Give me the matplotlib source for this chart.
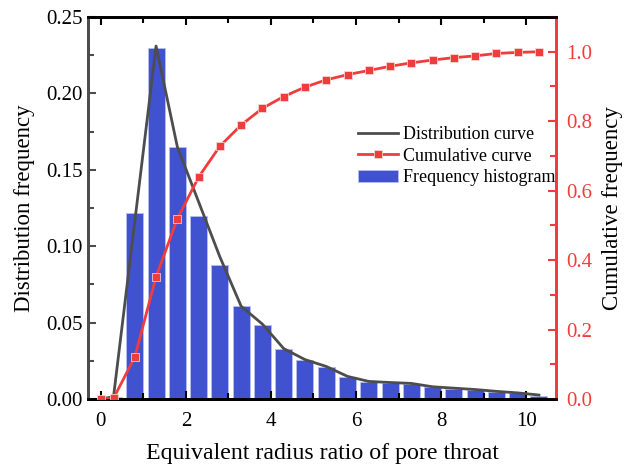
import matplotlib
matplotlib.use("Agg")
import matplotlib.pyplot as plt
from matplotlib.ticker import MultipleLocator

plt.rcParams["font.family"] = ["Liberation Serif", "DejaVu Serif"]
plt.rcParams["mathtext.fontset"] = "stix"

# histogram bins (centres) and frequencies
bin_centers = [0.3, 0.8, 1.3, 1.8, 2.3, 2.8, 3.3, 3.8, 4.3, 4.8, 5.3,
               5.8, 6.3, 6.8, 7.3, 7.8, 8.3, 8.8, 9.3, 9.8, 10.3]
freq = [0.0015, 0.122, 0.230, 0.165, 0.120, 0.0875, 0.0607, 0.0484, 0.0327, 0.0255, 0.0211,
        0.0146, 0.0113, 0.0103, 0.0098, 0.0077, 0.0068, 0.0059, 0.0048, 0.0037, 0.0022]

# distribution curve
curve_x = [0.0, 0.3, 1.3, 1.8, 2.3, 2.8, 3.3, 3.8, 4.3, 4.8, 5.3,
           5.8, 6.3, 6.8, 7.3, 7.8, 8.3, 8.8, 9.3, 9.8, 10.3]
curve_y = [0.0, 0.0015, 0.231, 0.165, 0.129, 0.093, 0.0607, 0.0490, 0.0330, 0.0258, 0.0213,
           0.0148, 0.0115, 0.0108, 0.0102, 0.0080, 0.0071, 0.0062, 0.0050, 0.0040, 0.0026]

# cumulative curve
cum_x = [0.0, 0.3, 0.8, 1.3, 1.8, 2.3, 2.8, 3.3, 3.8, 4.3, 4.8, 5.3,
         5.8, 6.3, 6.8, 7.3, 7.8, 8.3, 8.8, 9.3, 9.8, 10.3]
cum_y = [0.0, 0.002, 0.121, 0.352, 0.519, 0.639, 0.728, 0.789, 0.837, 0.871, 0.898, 0.919,
         0.934, 0.946, 0.958, 0.968, 0.976, 0.983, 0.988, 0.995, 0.998, 1.0]

BAR_COLOR = "#4052D0"
CURVE_COLOR = "#4d4d4d"
RED = "#F03C3C"

fig = plt.figure(figsize=(6.25, 4.67), dpi=100)
ax = fig.add_axes([0.1408, 0.1456, 0.7488, 0.818])
ax2 = ax.twinx()

bars = ax.bar(bin_centers, freq, width=0.4, color=BAR_COLOR, edgecolor="#b8bff0",
              linewidth=0.6, zorder=1, label="Frequency histogram")
dist, = ax.plot(curve_x, curve_y, color=CURVE_COLOR, linewidth=2, zorder=2,
                label="Distribution curve")
cum, = ax2.plot(cum_x, cum_y, color=RED, linewidth=2, marker="s", markersize=5.5,
                markeredgecolor="#fbe0e0", markeredgewidth=0.5, zorder=3,
                label="Cumulative curve")

ax.set_xlim(-0.3, 10.7)
ax.set_ylim(0, 0.25)
ax2.set_ylim(0, 1.1)

ax.xaxis.set_major_locator(MultipleLocator(2))
ax.xaxis.set_minor_locator(MultipleLocator(1))
ax.yaxis.set_major_locator(MultipleLocator(0.05))
ax.yaxis.set_minor_locator(MultipleLocator(0.025))
ax2.yaxis.set_major_locator(MultipleLocator(0.2))
ax2.yaxis.set_minor_locator(MultipleLocator(0.1))
ax.yaxis.set_major_formatter(plt.FormatStrFormatter("%.2f"))
ax2.yaxis.set_major_formatter(plt.FormatStrFormatter("%.1f"))

ax.tick_params(axis="x", which="both", direction="in", top=True, colors="black",
               labelsize=15, width=1.5, pad=9)
ax.tick_params(axis="x", which="major", length=6)
ax.tick_params(axis="x", which="minor", length=4)
ax.tick_params(axis="y", which="both", direction="in", color=CURVE_COLOR,
               labelcolor="black", labelsize=15, width=1.5, pad=4)
ax.tick_params(axis="y", which="major", length=6)
ax.tick_params(axis="y", which="minor", length=4)
ax2.tick_params(axis="y", which="both", direction="in", color=RED,
                labelcolor=RED, labelsize=15, width=1.5, pad=7.5)
ax2.tick_params(axis="y", which="major", length=6)
ax2.tick_params(axis="y", which="minor", length=4)

for a in (ax, ax2):
    for s in a.spines.values():
        s.set_linewidth(2)
    a.spines["top"].set_color("black")
    a.spines["bottom"].set_color("black")
    a.spines["left"].set_color(CURVE_COLOR)
    a.spines["right"].set_color(RED)

ax.set_xlabel("Equivalent radius ratio of pore throat", fontsize=17.2, labelpad=9)
ax.set_ylabel("Distribution frequency", fontsize=16.5, labelpad=8)
ax2.set_ylabel("Cumulative frequency", fontsize=16.5, labelpad=7)

ax2.legend([dist, cum, bars], ["Distribution curve", "Cumulative curve", "Frequency histogram"],
           loc="upper left", bbox_to_anchor=(0.562, 0.733), frameon=False, fontsize=13,
           handlelength=2.2, handletextpad=0.3, labelspacing=0.25, borderaxespad=0)

fig.savefig("out.png", dpi=100)
